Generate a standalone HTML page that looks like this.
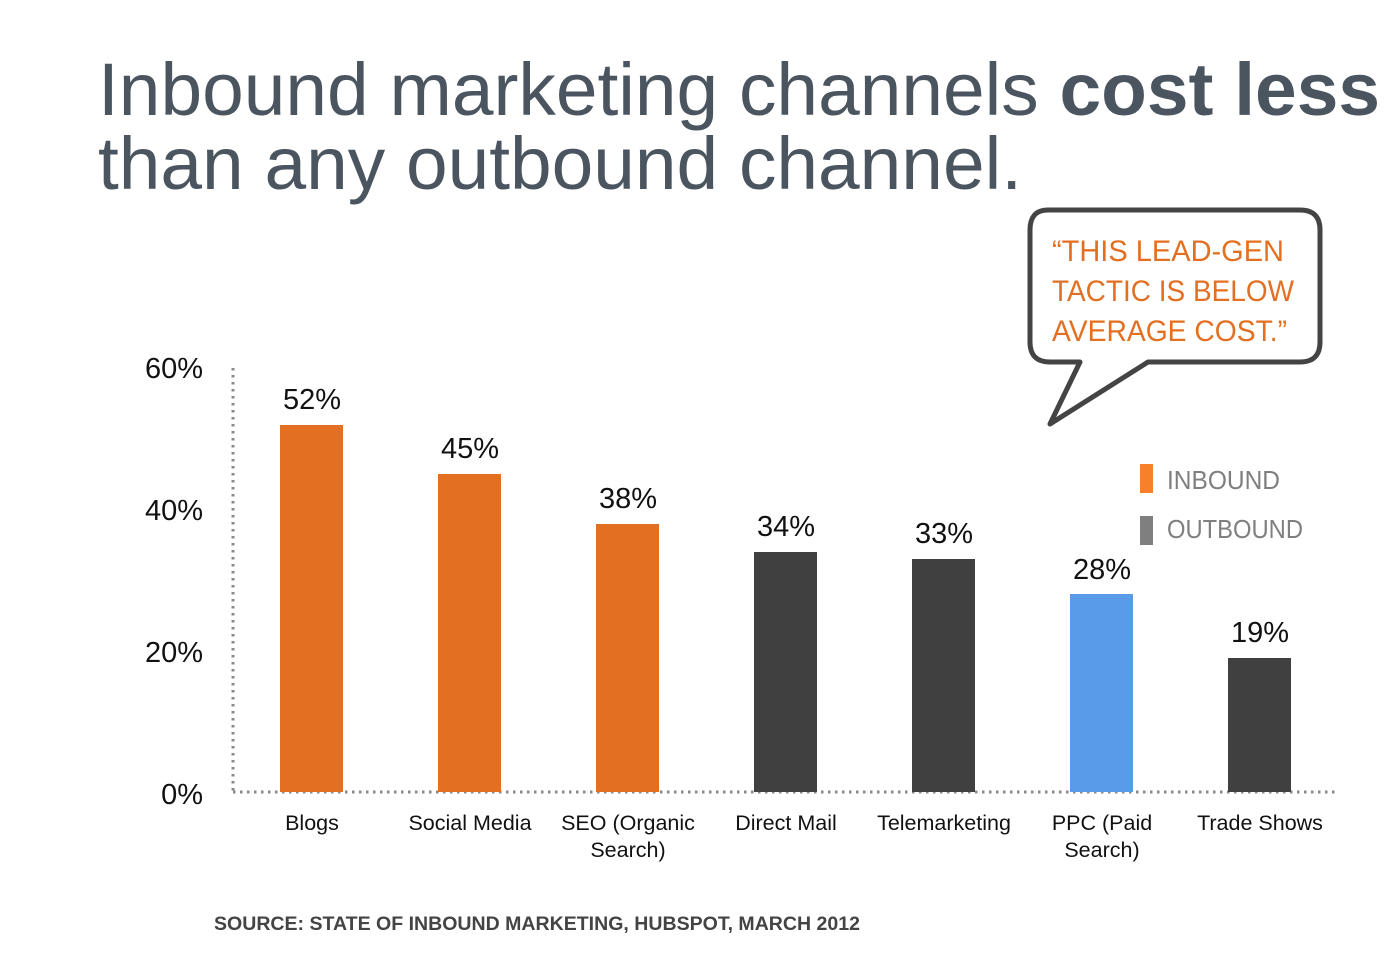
<!DOCTYPE html>
<html><head><meta charset="utf-8"><style>
html,body{margin:0;padding:0;background:#fff;}
svg{display:block;font-family:"Liberation Sans",sans-serif;}
</style></head><body>
<svg width="1397" height="955" viewBox="0 0 1397 955" xmlns="http://www.w3.org/2000/svg">
<g fill="#4b5560" font-size="74">
<text x="98" y="115" textLength="1282" lengthAdjust="spacingAndGlyphs">Inbound marketing channels <tspan font-weight="bold">cost less</tspan></text>
<text x="98" y="189" textLength="924" lengthAdjust="spacingAndGlyphs">than any outbound channel.</text>
</g>
<path d="M1048,210 H1300 Q1320,210 1320,230 V342 Q1320,362 1300,362 H1148 L1050,424 L1080,362 H1050 Q1030,362 1030,342 V230 Q1030,210 1048,210 Z" fill="#fff" stroke="#444" stroke-width="5" stroke-linejoin="round"/>
<g fill="#e37022" font-size="30">
<text x="1052" y="261" textLength="232" lengthAdjust="spacingAndGlyphs">“THIS LEAD-GEN</text>
<text x="1052" y="301" textLength="242" lengthAdjust="spacingAndGlyphs">TACTIC IS BELOW</text>
<text x="1052" y="341" textLength="235" lengthAdjust="spacingAndGlyphs">AVERAGE COST.”</text>
</g>
<rect x="1140" y="464" width="13" height="29" fill="#f7812a"/>
<rect x="1140" y="516" width="13" height="29" fill="#7f7f7f"/>
<g fill="#7f7f7f" font-size="26">
<text x="1167" y="489" textLength="113" lengthAdjust="spacingAndGlyphs">INBOUND</text>
<text x="1167" y="538" textLength="136" lengthAdjust="spacingAndGlyphs">OUTBOUND</text>
</g>
<line x1="233" y1="368" x2="233" y2="792" stroke="#888" stroke-width="3" stroke-dasharray="2.5,4.5"/>
<line x1="233" y1="792" x2="1336" y2="792" stroke="#888" stroke-width="3" stroke-dasharray="2.5,4.5"/>
<g fill="#111" font-size="29" text-anchor="end">
<text x="203" y="378">60%</text>
<text x="203" y="520">40%</text>
<text x="203" y="662">20%</text>
<text x="203" y="804">0%</text>
</g>
<rect x="280" y="425" width="63" height="367" fill="#e37022"/>
<rect x="438" y="474" width="63" height="318" fill="#e37022"/>
<rect x="596" y="524" width="63" height="268" fill="#e37022"/>
<rect x="754" y="552" width="63" height="240" fill="#404040"/>
<rect x="912" y="559" width="63" height="233" fill="#404040"/>
<rect x="1070" y="594" width="63" height="198" fill="#5a9be8"/>
<rect x="1228" y="658" width="63" height="134" fill="#404040"/>
<g fill="#111" font-size="29" text-anchor="middle">
<text x="312" y="409">52%</text>
<text x="470" y="458">45%</text>
<text x="628" y="508">38%</text>
<text x="786" y="536">34%</text>
<text x="944" y="543">33%</text>
<text x="1102" y="579">28%</text>
<text x="1260" y="642">19%</text>
</g>
<g fill="#111" font-size="21.5" text-anchor="middle">
<text x="312" y="830">Blogs</text>
<text x="470" y="830">Social Media</text>
<text x="628" y="830">SEO (Organic</text>
<text x="628" y="857">Search)</text>
<text x="786" y="830">Direct Mail</text>
<text x="944" y="830">Telemarketing</text>
<text x="1102" y="830">PPC (Paid</text>
<text x="1102" y="857">Search)</text>
<text x="1260" y="830">Trade Shows</text>
</g>
<text x="214" y="930" fill="#444" font-size="19" font-weight="bold" textLength="646" lengthAdjust="spacingAndGlyphs">SOURCE: STATE OF INBOUND MARKETING, HUBSPOT, MARCH 2012</text>
</svg>
</body></html>
